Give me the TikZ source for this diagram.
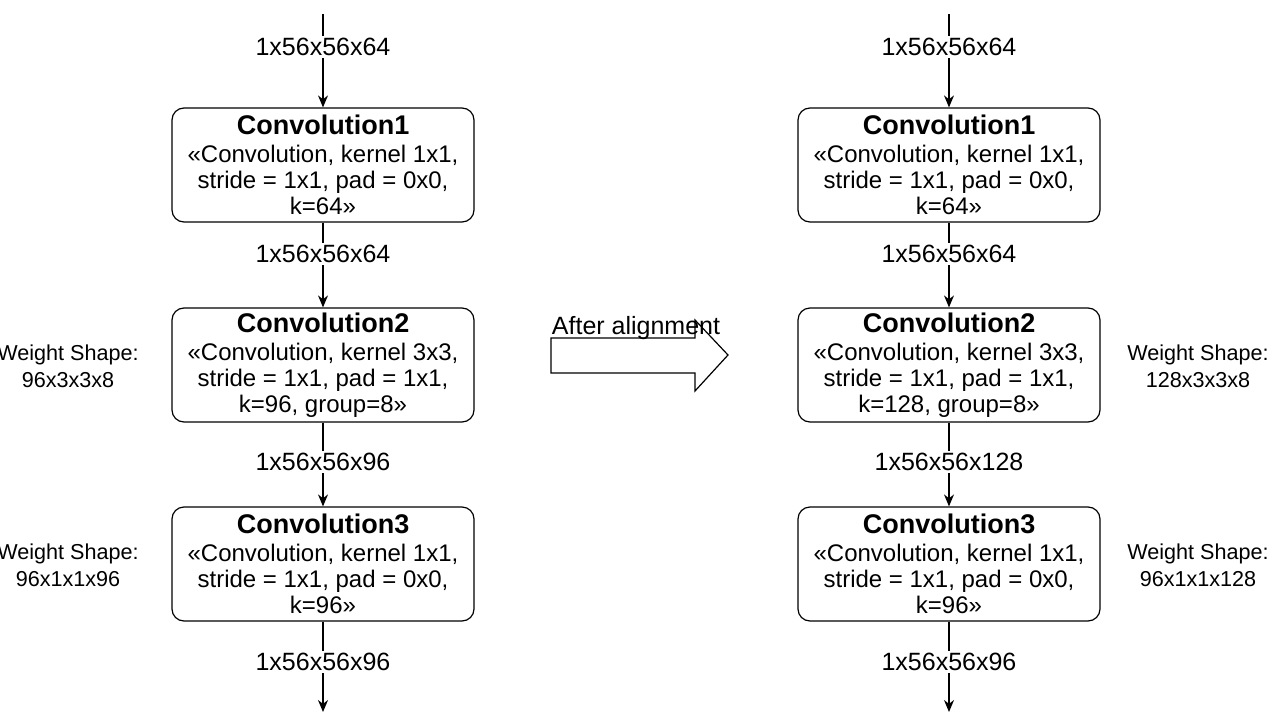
\documentclass[tikz,border=0pt]{standalone}
\usepackage{fontspec}
\setmainfont{Liberation Sans}
\usetikzlibrary{arrows.meta}
\begin{document}
\begin{tikzpicture}[x=0.5pt,y=-0.5pt,
  box/.style={draw,line width=0.6pt,rounded corners=6pt,minimum width=151pt,minimum height=57pt,inner sep=0pt,align=center,font=\fontsize{12}{13}\selectfont},
  lab/.style={font=\fontsize{12.5}{14}\selectfont,inner sep=1pt,fill=white},
  ws/.style={font=\fontsize{10.8}{13.5}\selectfont,align=center,inner sep=0pt},
  arr/.style={line width=0.6pt,-{Stealth[length=6pt,width=5pt]}},
  ln/.style={line width=0.6pt}]
\useasboundingbox (0,0) rectangle (1280,728);
\foreach \cx/\p/\kb/\kc/\wa/\wb/\mid in {323/L/96/96/96x3x3x8/96x1x1x96/1x56x56x96, 949/R/128/128/128x3x3x8/96x1x1x128/1x56x56x128}{
  \node[box] (a\p) at (\cx,165) {\textbf{\fontsize{13.5}{15}\selectfont Convolution1}\\[1pt]«Convolution, kernel 1x1,\\stride = 1x1, pad = 0x0,\\k=64»};
  \node[box] (b\p) at (\cx,365) {\textbf{\fontsize{13.5}{15}\selectfont Convolution2}\\[1pt]«Convolution, kernel 3x3,\\stride = 1x1, pad = 1x1,\\k=\kb, group=8»};
  \node[box] (c\p) at (\cx,564) {\textbf{\fontsize{13.5}{15}\selectfont Convolution3}\\[1pt]«Convolution, kernel 1x1,\\stride = 1x1, pad = 0x0,\\k=96»};
  \coordinate (s\p) at (\cx,14);
  \coordinate (e\p) at (\cx,712);
  \node[lab] (l0\p) at (\cx,47) {1x56x56x64};
  \node[lab] (l1\p) at (\cx,254) {1x56x56x64};
  \node[lab] (l2\p) at (\cx,462) {\mid};
  \node[lab] (l3\p) at (\cx,662) {1x56x56x96};
  \draw[ln] (s\p) -- (l0\p);
  \draw[arr] (l0\p) -- (a\p);
  \draw[ln] (a\p) -- (l1\p);
  \draw[arr] (l1\p) -- (b\p);
  \draw[ln] (b\p) -- (l2\p);
  \draw[arr] (l2\p) -- (c\p);
  \draw[ln] (c\p) -- (l3\p);
  \draw[arr] (l3\p) -- (e\p);
}
\node[ws] (w1) at (68,366) {Weight Shape:\\96x3x3x8};
\node[ws] (w2) at (68,565) {Weight Shape:\\96x1x1x96};
\node[ws] (w3) at (1198,366) {Weight Shape:\\128x3x3x8};
\node[ws] (w4) at (1198,565) {Weight Shape:\\96x1x1x128};
\draw[line width=0.6pt] (551,338) -- (695,338) -- (695,320) -- (728,355) -- (695,391) -- (695,373) -- (551,373) -- cycle;
\node[font=\fontsize{12.5}{14}\selectfont] (t) at (636,328) {After alignment};
\end{tikzpicture}
\end{document}
